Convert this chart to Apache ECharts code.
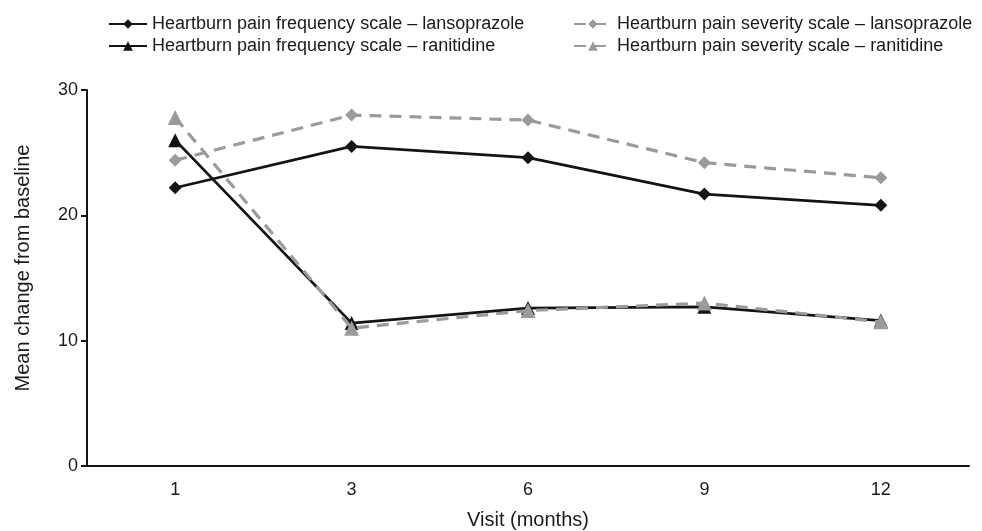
<!DOCTYPE html>
<html>
<head>
<meta charset="utf-8">
<script src="https://cdn.jsdelivr.net/npm/echarts@6/dist/echarts.min.js"></script>
<style>html,body{margin:0;padding:0;background:#fff}#c{width:982px;height:531px}</style>
</head>
<body>
<div id="c"></div>
<script>
const categories = ['1', '3', '6', '9', '12'];
const freqLanso = [22.2, 25.5, 24.6, 21.7, 20.8];
const freqRani = [26.0, 11.4, 12.6, 12.7, 11.6];
const sevLanso = [24.4, 28.0, 27.6, 24.2, 23.0];
const sevRani = [27.8, 11.0, 12.4, 13.0, 11.5];
const yTicks = [0, 10, 20, 30];
const names = [
  'Heartburn pain frequency scale – lansoprazole',
  'Heartburn pain frequency scale – ranitidine',
  'Heartburn pain severity scale – lansoprazole',
  'Heartburn pain severity scale – ranitidine'
];

const FONT = "'Liberation Sans', Arial, Helvetica, sans-serif";
const BLACK = '#141414';
const GRAY = '#9b9b9b';
const TXT = '#1a1a1a';

const chart = echarts.init(document.getElementById('c'), null, {renderer: 'canvas'});
const legendText = {fontFamily: FONT, fontSize: 18, color: TXT};
chart.setOption({
  animation: false,
  backgroundColor: '#fff',
  textStyle: {fontFamily: FONT},
  legend: [
    {data: [names[0], names[1]], orient: 'vertical', left: 103, top: 10, itemWidth: 38, itemHeight: 12, itemGap: 4, textStyle: legendText},
    {data: [names[2], names[3]], orient: 'vertical', left: 568, top: 10, itemWidth: 38, itemHeight: 12, itemGap: 4, textStyle: legendText}
  ],
  grid: {left: 87, right: 13, top: 90, bottom: 65, containLabel: false, outerBoundsMode: 'none'},
  xAxis: {
    type: 'category',
    data: categories,
    boundaryGap: true,
    name: 'Visit (months)',
    nameLocation: 'middle',
    nameGap: 44,
    nameTextStyle: {fontFamily: FONT, fontSize: 20, color: TXT},
    axisLine: {lineStyle: {color: BLACK, width: 2}},
    axisTick: {show: false},
    axisLabel: {fontFamily: FONT, fontSize: 18, color: TXT, margin: 15}
  },
  yAxis: {
    type: 'value',
    min: yTicks[0],
    max: yTicks[yTicks.length - 1],
    interval: 10,
    name: 'Mean change from baseline',
    nameLocation: 'middle',
    nameGap: 54,
    nameTextStyle: {fontFamily: FONT, fontSize: 20, color: TXT, padding: [0, 0, 0, 20]},
    axisLine: {show: true, lineStyle: {color: BLACK, width: 2}},
    axisTick: {show: true, length: 6, lineStyle: {color: BLACK, width: 2}},
    splitLine: {show: false},
    axisLabel: {fontFamily: FONT, fontSize: 18, color: TXT, margin: 9}
  },
  series: [
    {name: names[0], type: 'line', data: freqLanso, symbol: 'diamond', symbolSize: 13,
     lineStyle: {color: BLACK, width: 2.8}, itemStyle: {color: BLACK}, z: 2},
    {name: names[1], type: 'line', data: freqRani, symbol: 'triangle', symbolSize: 14,
     lineStyle: {color: BLACK, width: 2.8}, itemStyle: {color: BLACK}, z: 2},
    {name: names[2], type: 'line', data: sevLanso, symbol: 'diamond', symbolSize: 13,
     lineStyle: {color: GRAY, width: 3.2, type: [12, 8]}, itemStyle: {color: GRAY}, z: 3},
    {name: names[3], type: 'line', data: sevRani, symbol: 'triangle', symbolSize: 15,
     lineStyle: {color: GRAY, width: 3.2, type: [12, 8]}, itemStyle: {color: GRAY}, z: 3}
  ]
});
</script>
</body>
</html>
